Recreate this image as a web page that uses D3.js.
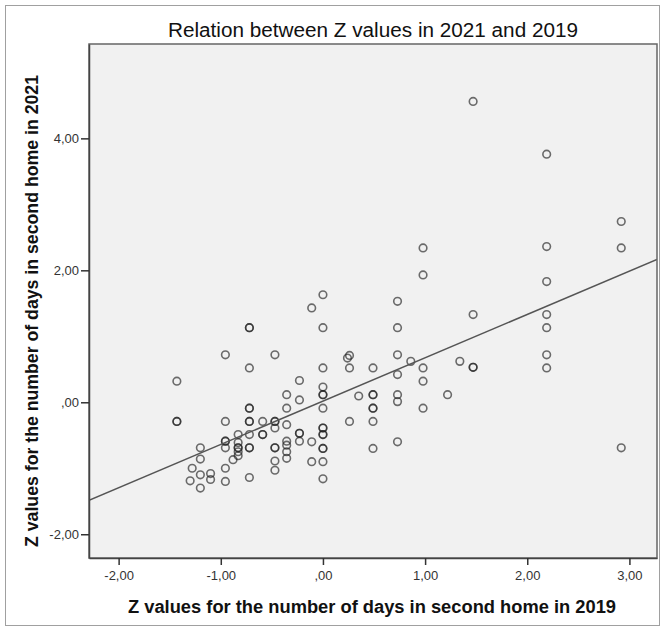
<!DOCTYPE html>
<html>
<head>
<meta charset="utf-8">
<script src="https://cdn.jsdelivr.net/npm/d3@7"></script>
<style>
  body { margin: 0; background: #fff; }
  text { font-family: "Liberation Sans", Arial, sans-serif; }
</style>
</head>
<body>
<svg id="chart" width="663" height="630"></svg>
<script>
// Z values 2019 (x) and 2021 (y)
const z2019 = [
  1.47, 2.19, 2.92, 2.92, 2.19, 0.98, 0.98, 2.19, 1.47, 2.19,
  2.19, 2.19, 2.19, 0.86, 0.98, 0.98, 1.34, 1.47, 1.47, 1.22,
  0.98, 2.92, 0.73, 0.73, 0.73, 0.73, 0.73, 0.73, 0.73, 0.49,
  0.49, 0.49, 0.49, 0.49, 0.49, 0.49, 0.00, 0.00, 0.00, 0.00,
  0.00, 0.00, 0.00, 0.00, 0.00, 0.00, 0.00, 0.00, 0.00, 0.00,
  0.00, -0.11, 0.24, 0.26, 0.26, 0.35, 0.26, -0.11, -0.11, -0.72,
  -0.72, -0.955, -0.47, -0.72, -1.43, -0.23, -0.355, -0.23, -0.355, -0.72,
  -0.72, -1.43, -1.43, -0.955, -0.72, -0.72, -0.59, -0.47, -0.47, -0.355,
  -0.47, -0.83, -0.72, -0.59, -0.59, -0.23, -0.23, -0.355, -0.23, -0.955,
  -0.955, -0.83, -0.955, -0.83, -0.83, -0.72, -0.72, -0.47, -0.47, -1.20,
  -0.83, -0.83, -0.355, -0.355, -0.355, -0.47, -0.47, -1.20, -0.88, -0.955,
  -1.28, -1.20, -1.10, -1.10, -1.30, -1.20, -0.955, -0.72
];
const z2021 = [
  4.56, 3.76, 2.74, 2.34, 2.36, 2.34, 1.93, 1.83, 1.33, 1.33,
  1.13, 0.72, 0.52, 0.62, 0.52, 0.32, 0.62, 0.53, 0.53, 0.115,
  -0.09, -0.69, 1.53, 1.13, 0.72, 0.42, 0.115, 0.01, -0.60, 0.52,
  0.115, 0.115, -0.09, -0.09, -0.29, -0.70, 1.63, 1.13, 0.52, 0.23,
  0.115, 0.115, -0.09, -0.39, -0.39, -0.49, -0.49, -0.70, -0.70, -0.90,
  -1.16, 1.43, 0.67, 0.71, 0.52, 0.095, -0.29, -0.60, -0.90, 1.13,
  1.13, 0.72, 0.72, 0.52, 0.32, 0.33, 0.115, 0.035, -0.09, -0.09,
  -0.09, -0.29, -0.29, -0.29, -0.29, -0.29, -0.29, -0.29, -0.29, -0.34,
  -0.39, -0.49, -0.49, -0.49, -0.49, -0.47, -0.47, -0.59, -0.59, -0.59,
  -0.59, -0.61, -0.69, -0.69, -0.69, -0.69, -0.69, -0.69, -0.69, -0.69,
  -0.75, -0.81, -0.65, -0.75, -0.85, -0.89, -1.03, -0.86, -0.87, -1.00,
  -1.00, -1.10, -1.08, -1.17, -1.19, -1.30, -1.20, -1.14
];
const xTicks = [-2, -1, 0, 1, 2, 3];
const yTicks = [-2, 0, 2, 4];
// fit line: y = slope * x + intercept
const fitSlope = 0.657;
const fitIntercept = 0.018;

const plot = { left: 89, right: 657, top: 44, bottom: 558 };

const svg = d3.select("#chart");

// outer frame
svg.append("rect")
    .attr("x", 5.5).attr("y", 5.5)
    .attr("width", 654).attr("height", 620)
    .attr("fill", "#fff")
    .attr("stroke", "#a0a0a0");

const x = d3.scaleLinear().domain([-2.29, 3.27]).range([plot.left, plot.right]);
const y = d3.scaleLinear().domain([-2.36, 5.43]).range([plot.bottom, plot.top]);

// SPSS style: comma decimals, no leading zero, plain hyphen
const fmt = v => d3.format(".2f")(v).replace("−", "-").replace(".", ",").replace(/^0,/, ",");

// plot background
svg.append("rect")
    .attr("x", plot.left).attr("y", plot.top)
    .attr("width", plot.right - plot.left).attr("height", plot.bottom - plot.top)
    .attr("fill", "#f1f1f1");

svg.append("clipPath").attr("id", "clip")
    .append("rect")
    .attr("x", plot.left).attr("y", plot.top)
    .attr("width", plot.right - plot.left).attr("height", plot.bottom - plot.top);

// points
svg.append("g")
    .selectAll("circle")
    .data(d3.zip(z2019, z2021))
    .enter().append("circle")
    .attr("cx", d => x(d[0]))
    .attr("cy", d => y(d[1]))
    .attr("r", 3.8)
    .attr("fill", "none")
    .attr("stroke", "#222")
    .attr("stroke-opacity", 0.65)
    .attr("stroke-width", 1.6);

// fit line
const [x0, x1] = x.domain();
svg.append("line")
    .attr("clip-path", "url(#clip)")
    .attr("x1", x(x0)).attr("y1", y(fitSlope * x0 + fitIntercept))
    .attr("x2", x(x1)).attr("y2", y(fitSlope * x1 + fitIntercept))
    .attr("stroke", "#555")
    .attr("stroke-width", 1.5);

// plot border
svg.append("rect")
    .attr("x", plot.left).attr("y", plot.top)
    .attr("width", plot.right - plot.left).attr("height", plot.bottom - plot.top)
    .attr("fill", "none")
    .attr("stroke", "#666")
    .attr("stroke-width", 1.5);

// axes
const xAxis = svg.append("g")
    .attr("transform", `translate(0,${plot.bottom})`)
    .call(d3.axisBottom(x).tickValues(xTicks).tickFormat(fmt)
        .tickSizeInner(7).tickSizeOuter(0).tickPadding(6));
const yAxis = svg.append("g")
    .attr("transform", `translate(${plot.left},0)`)
    .call(d3.axisLeft(y).tickValues(yTicks).tickFormat(fmt)
        .tickSizeInner(8).tickSizeOuter(0).tickPadding(2));

[xAxis, yAxis].forEach(a => {
    a.select(".domain").attr("stroke", "#444").attr("stroke-width", 1.5);
    a.selectAll(".tick line").attr("stroke", "#333").attr("stroke-width", 1.5);
    a.selectAll(".tick text")
        .attr("fill", "#333")
        .style("font-size", "13px")
        .style("font-family", "'Liberation Sans', Arial, sans-serif");
});

// titles
svg.append("text")
    .attr("x", (plot.left + plot.right) / 2)
    .attr("y", 37)
    .attr("text-anchor", "middle")
    .attr("textLength", 410)
    .attr("lengthAdjust", "spacingAndGlyphs")
    .style("font-size", "20px")
    .attr("fill", "#111")
    .text("Relation between Z values in 2021 and 2019");

svg.append("text")
    .attr("x", 372)
    .attr("y", 613)
    .attr("text-anchor", "middle")
    .attr("textLength", 488)
    .attr("lengthAdjust", "spacingAndGlyphs")
    .style("font-size", "18px")
    .style("font-weight", "bold")
    .attr("fill", "#111")
    .text("Z values for the number of days in second home in 2019");

svg.append("text")
    .attr("transform", "translate(38,311) rotate(-90)")
    .attr("text-anchor", "middle")
    .attr("textLength", 472)
    .attr("lengthAdjust", "spacingAndGlyphs")
    .style("font-size", "18px")
    .style("font-weight", "bold")
    .attr("fill", "#111")
    .text("Z values for the number of days in second home in 2021");
</script>
</body>
</html>
